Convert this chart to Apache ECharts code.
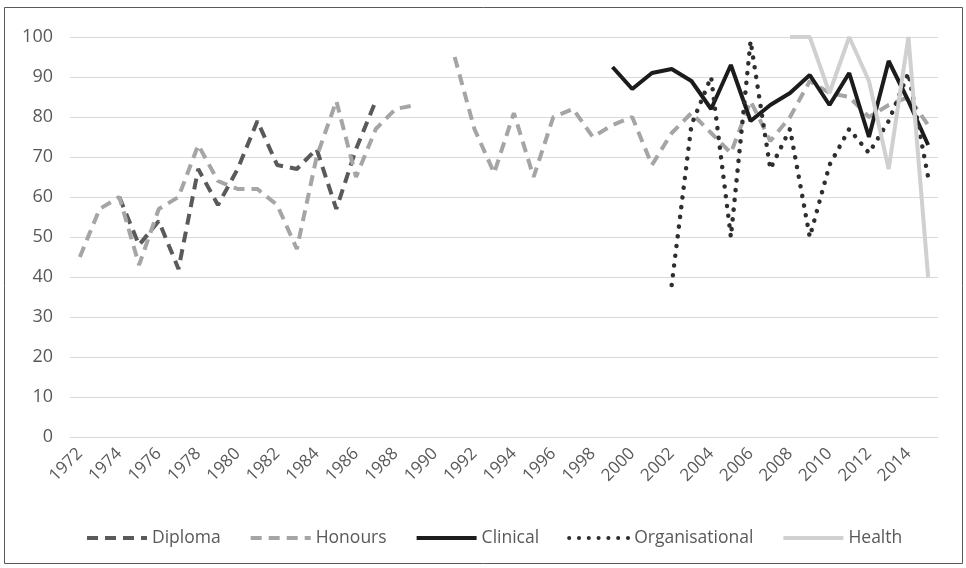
<!DOCTYPE html>
<html>
<head>
<meta charset="utf-8">
<script src="https://cdn.jsdelivr.net/npm/echarts@6/dist/echarts.min.js"></script>
<style>
html,body{margin:0;padding:0;background:#fff;}
#chart{width:966px;height:568px;}
</style>
</head>
<body>
<div id="chart"></div>
<script>
const years = ['1972','1973','1974','1975','1976','1977','1978','1979','1980','1981','1982','1983','1984','1985','1986','1987','1988','1989','1990','1991','1992','1993','1994','1995','1996','1997','1998','1999','2000','2001','2002','2003','2004','2005','2006','2007','2008','2009','2010','2011','2012','2013','2014','2015'];
const seriesNames = ['Diploma','Honours','Clinical','Organisational','Health'];
const yTicks = [0,10,20,30,40,50,60,70,80,90,100];

const diploma = [null,null,60,48,54,42,67,58,67,79,68,67,72,57,72,84,
  null,null,null,null,null,null,null,null,null,null,null,null,null,null,null,null,null,null,null,null,null,null,null,null,null,null,null,null];
const honours = [45,57,60,43,57,60,73,64,62,62,58,47,70,84,65,77,82,83,null,
  95,77,66,81,65,80,82,75,78,80,68,76,81,76,71,84,74,80,89,86,85,80,83,85,78];
const clinical = [null,null,null,null,null,null,null,null,null,null,null,null,null,null,null,null,null,null,null,null,null,null,null,null,null,null,null,
  92.5,87,91,92,89,82,93,79,83,86,90.5,83,91,75,94,84,73];
const organisational = [null,null,null,null,null,null,null,null,null,null,null,null,null,null,null,null,null,null,null,null,null,null,null,null,null,null,null,null,null,null,
  38,78,90,50,99,67,77,50,68,77,71,79,91,65];
const health = [null,null,null,null,null,null,null,null,null,null,null,null,null,null,null,null,null,null,null,null,null,null,null,null,null,null,null,null,null,null,null,null,null,null,null,null,
  100,100,86,100,89,67,100,40];

const FONT = '"Open Sans", sans-serif';
const chart = echarts.init(document.getElementById('chart'));
chart.setOption({
  animation: false,
  backgroundColor: '#ffffff',
  graphic: [{
    type: 'rect', shape: {x: 4.5, y: 7.5, width: 958, height: 556},
    style: {fill: 'none', stroke: '#595959', lineWidth: 1}, silent: true
  }],
  grid: {left: 70, right: 28, top: 37, bottom: 131, containLabel: false},
  legend: {
    left: 80, top: 524, itemWidth: 60, itemHeight: 20, itemGap: 28,
    data: seriesNames,
    itemStyle: {opacity: 0},
    lineStyle: {width: 4},
    textStyle: {fontFamily: FONT, fontSize: 17.5, color: '#595959'}
  },
  xAxis: {
    type: 'category', data: years, boundaryGap: true,
    axisLine: {show: true, lineStyle: {color: '#d9d9d9', width: 1}},
    axisTick: {show: false},
    axisLabel: {interval: 1, rotate: 45, margin: 14, fontFamily: FONT, fontSize: 17, color: '#595959'}
  },
  yAxis: {
    type: 'value', min: yTicks[0], max: yTicks[yTicks.length-1], interval: 10,
    axisLine: {show: false}, axisTick: {show: false},
    splitLine: {lineStyle: {color: '#d9d9d9', width: 1}},
    axisLabel: {margin: 17, fontFamily: FONT, fontSize: 18, color: '#595959'}
  },
  series: [
    {name: 'Diploma', type: 'line', data: diploma, symbol: 'none', connectNulls: false,
     lineStyle: {color: '#5a5a5a', width: 4, type: [11, 7]}, itemStyle: {color: '#5a5a5a'}},
    {name: 'Honours', type: 'line', data: honours, symbol: 'none', connectNulls: false,
     lineStyle: {color: '#a5a5a5', width: 4, type: [11, 7]}, itemStyle: {color: '#a5a5a5'}},
    {name: 'Clinical', type: 'line', data: clinical, symbol: 'none',
     lineStyle: {color: '#1c1c1c', width: 4}, itemStyle: {color: '#1c1c1c'}},
    {name: 'Organisational', type: 'line', data: organisational, symbol: 'none',
     lineStyle: {color: '#2e2e2e', width: 4.5, type: [0.1, 9.7], cap: 'round'}, itemStyle: {color: '#2e2e2e'}},
    {name: 'Health', type: 'line', data: health, symbol: 'none',
     lineStyle: {color: '#d0d0d0', width: 4}, itemStyle: {color: '#d0d0d0'}}
  ]
});
</script>
</body>
</html>
